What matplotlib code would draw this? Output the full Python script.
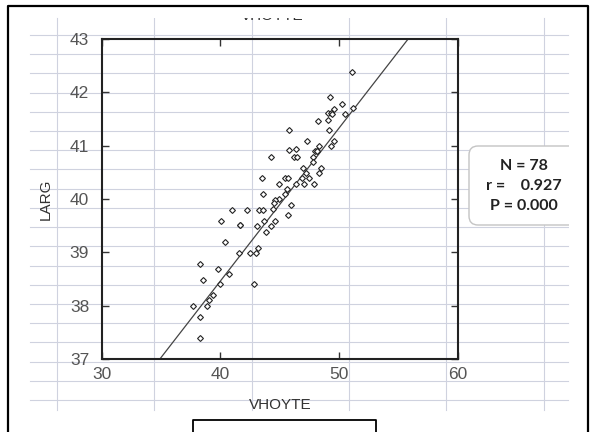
import numpy as np
import matplotlib
matplotlib.use('Agg')
import matplotlib.pyplot as plt
from matplotlib.patches import Rectangle, FancyBboxPatch

# valores
vhoyte = [51.07, 49.22, 50.25, 49.58, 51.15, 49.02, 49.30, 49.41, 50.48, 48.21,
          49.02, 45.77, 49.11, 47.31, 49.55, 45.77, 46.33, 48.32, 49.30, 47.95,
          48.10, 44.25, 46.19, 46.41, 47.81, 47.76, 46.97, 48.46, 48.29, 47.22,
          43.47, 45.43, 45.66, 46.86, 47.47, 44.95, 46.33, 47.05, 47.87, 45.57,
          43.58, 45.43, 44.95, 44.61, 44.53, 45.96, 40.97, 42.21, 43.27, 43.60,
          44.42, 45.71, 40.04, 41.64, 43.69, 44.56, 43.10, 44.23, 43.86, 40.38,
          41.56, 42.48, 42.96, 43.18, 38.30, 39.81, 40.74, 38.50, 39.98, 42.85,
          39.34, 39.01, 38.89, 37.71, 38.25, 38.25, 41.64, 48.10]
larg = [42.39, 41.91, 41.79, 41.69, 41.71, 41.62, 41.62, 41.59, 41.59, 41.47,
        41.49, 41.29, 41.29, 41.09, 41.09, 40.91, 40.93, 40.99, 40.99, 40.90,
        40.90, 40.79, 40.79, 40.79, 40.79, 40.70, 40.59, 40.59, 40.49, 40.49,
        40.40, 40.39, 40.39, 40.39, 40.39, 40.29, 40.29, 40.29, 40.29, 40.19,
        40.09, 40.09, 40.00, 39.99, 39.93, 39.89, 39.79, 39.79, 39.79, 39.79,
        39.81, 39.70, 39.59, 39.51, 39.59, 39.59, 39.49, 39.49, 39.39, 39.19,
        38.99, 38.99, 38.99, 39.09, 38.79, 38.69, 38.60, 38.49, 38.41, 38.41,
        38.20, 38.11, 38.00, 37.99, 37.79, 37.40, 39.51, 40.90]

# reta de regressão (extremos)
reta_x = [34.9, 55.8]
reta_y = [37.0, 43.0]

x_ticks = [30, 40, 50, 60]
y_ticks = [37, 38, 39, 40, 41, 42, 43]
stats_lines = ['N = 78', 'r =    0.927', 'P = 0.000']

W, H = 592, 432
fig = plt.figure(figsize=(W / 100, H / 100), dpi=100)

# fundo tipo planilha (coordenadas em pixels)
bg = fig.add_axes([0, 0, 1, 1], zorder=0)
bg.set_xlim(0, W)
bg.set_ylim(H, 0)
bg.axis('off')

grid_c = '#cfd2df'
for gx in np.arange(57, 560, 97.3):
    bg.plot([gx, gx], [18, 410], color=grid_c, lw=0.8, zorder=1)
for gy in np.linspace(35, 400, 20):
    bg.plot([30, 568], [gy, gy], color=grid_c, lw=0.8, zorder=1)

# título cortado no topo
bg.text(272, 23, 'VHOYTE', ha='center', va='bottom', fontsize=11,
        family='Liberation Sans', color='#333333', zorder=2)
bg.add_patch(Rectangle((150, 7), 300, 11.0, facecolor='white',
                       edgecolor='none', zorder=3))

# caixa com estatísticas
bg.add_patch(FancyBboxPatch((469, 146), 140, 79,
                            boxstyle='round,pad=0,rounding_size=9',
                            facecolor='white', edgecolor='#c4c4c4', lw=1, zorder=4))
bg.add_patch(Rectangle((568.5, 130), 40, 110, facecolor='white',
                       edgecolor='none', zorder=5))
for i, line in enumerate(stats_lines):
    bg.text(524, 166 + i * 20, line, ha='center', va='center', fontsize=11.5,
            fontweight='bold', family='Lato', color='#222222', zorder=6)

# caixa inferior
bg.plot([193, 193, 376, 376], [440, 420, 420, 440], color='black', lw=1.3, zorder=6)

# moldura externa
bg.plot([8, 8, 588, 588], [440, 6, 6, 440], color='black', lw=1.6, zorder=7)

# gráfico de dispersão
ax = fig.add_axes([101.7 / W, 1 - 359 / H, (458 - 101.7) / W, (359 - 39) / H], zorder=2)
ax.set_facecolor('none')
ax.plot(reta_x, reta_y, color='#444444', lw=0.9, zorder=2)
ax.plot(vhoyte, larg, linestyle='none', marker='D', markersize=3,
        markerfacecolor='white', markeredgecolor='#222222', markeredgewidth=0.8, zorder=3)
ax.set_xlim(30, 60)
ax.set_ylim(37, 43)
ax.set_xticks(x_ticks)
ax.set_yticks(y_ticks)
ax.tick_params(direction='in', length=5, width=1, color='#333333',
               top=True, right=True, labelsize=12.5, labelcolor='#555555')
ax.tick_params(axis='y', pad=9)
ax.tick_params(axis='x', pad=6)
for lab in ax.get_xticklabels() + ax.get_yticklabels():
    lab.set_family('Liberation Sans')
for s in ax.spines.values():
    s.set_linewidth(1.5)
    s.set_color('#222222')

ax.set_xlabel('VHOYTE', fontsize=11, family='Liberation Sans', color='#333333')
ax.set_ylabel('LARG', fontsize=11, family='Liberation Sans', color='#333333')
ax.xaxis.set_label_coords(0.5, -0.122)
ax.yaxis.set_label_coords(-0.137, 0.5)

fig.savefig('out.png', dpi=100)
